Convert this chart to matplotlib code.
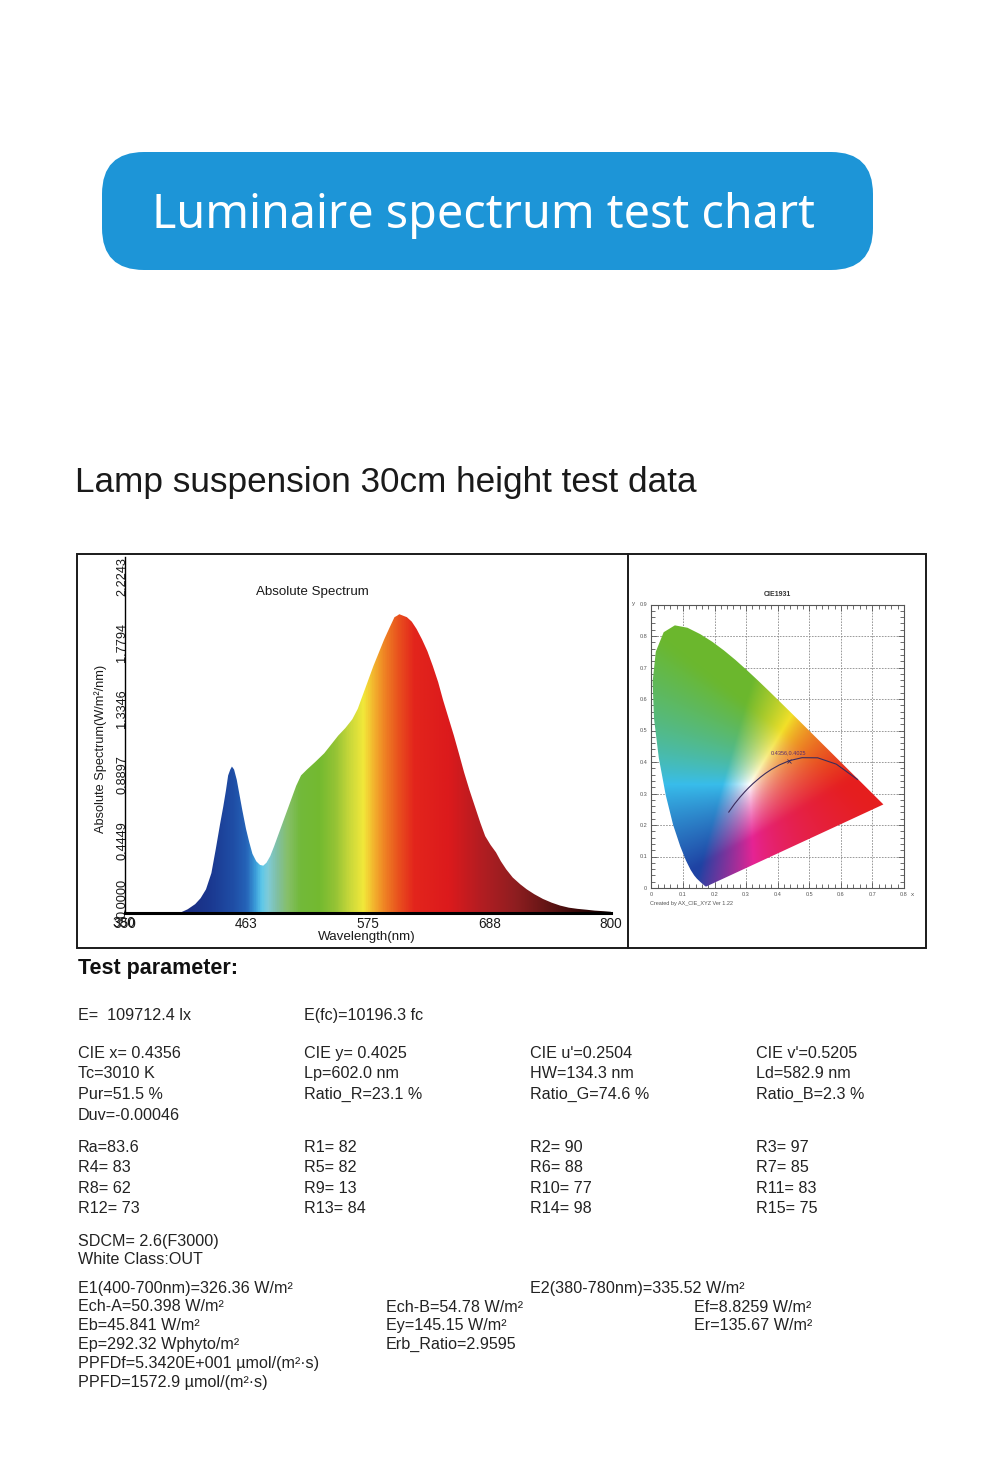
import numpy as np
import matplotlib
matplotlib.use("Agg")
import matplotlib.pyplot as plt
from matplotlib.patches import FancyBboxPatch, Rectangle, Polygon
from matplotlib.colors import LinearSegmentedColormap, Normalize
from matplotlib.transforms import ScaledTranslation

# ---------------- data ----------------
wavelength_nm = [380, 395, 402, 408, 415, 420, 425, 430, 434, 438, 441, 443.5, 445.5, 447.5, 449, 451,
                 453.5, 456, 458.5, 462, 465, 468, 471.5, 475, 478, 481, 484.5, 488, 492.5, 496.5,
                 500.5, 504.5, 508.5, 513, 518.5, 526, 534.5, 541, 547.5, 554, 560.5, 565.5, 570,
                 575, 580, 585, 590, 595, 599.5, 602, 604, 607.5, 611, 615.5, 620, 625, 630, 635,
                 640, 644.5, 649.5, 654.5, 659.5, 664, 669, 674, 679, 683.5, 688.5, 693.5, 698,
                 703, 709, 716, 722, 729, 737, 745, 753, 761, 769, 777.5, 785, 793.5, 800]
irradiance = [0.0, 0.0, 0.005, 0.025, 0.06, 0.10, 0.16, 0.27, 0.43, 0.60, 0.72, 0.83, 0.93, 0.97, 0.99, 0.97,
              0.90, 0.80, 0.70, 0.57, 0.48, 0.40, 0.35, 0.325, 0.32, 0.34, 0.385, 0.45, 0.54, 0.62,
              0.70, 0.78, 0.86, 0.93, 0.97, 1.02, 1.08, 1.14, 1.20, 1.25, 1.31, 1.38, 1.47,
              1.57, 1.67, 1.76, 1.85, 1.93, 2.00, 2.01, 2.02, 2.01, 2.00, 1.97, 1.92, 1.85, 1.77, 1.67,
              1.56, 1.44, 1.32, 1.20, 1.07, 0.95, 0.83, 0.72, 0.61, 0.52, 0.46, 0.41, 0.35,
              0.295, 0.24, 0.194, 0.16, 0.127, 0.095, 0.07, 0.05, 0.036, 0.028, 0.022, 0.016, 0.012, 0.008]

x_tick_values = [350, 462.5, 575, 687.5, 800]
x_tick_labels = ["350", "463", "575", "688", "800"]
y_tick_values = [0.0, 0.4449, 0.8897, 1.3346, 1.7794, 2.2243]
y_tick_labels = ["0.0000", "0.4449", "0.8897", "1.3346", "1.7794", "2.2243"]

# CIE 1931 spectral locus (x, y)
locus_x = [0.1741, 0.1733, 0.1714, 0.1689, 0.1644, 0.1566, 0.1440, 0.1355, 0.1241, 0.1096, 0.0913,
           0.0687, 0.0454, 0.0235, 0.0082, 0.0039, 0.0139, 0.0389, 0.0743, 0.1142, 0.1547, 0.1929,
           0.2296, 0.2658, 0.3016, 0.3373, 0.3731, 0.4087, 0.4441, 0.4788, 0.5125, 0.5448, 0.5752,
           0.6029, 0.6270, 0.6658, 0.6915, 0.7079, 0.7190, 0.7260, 0.7334, 0.7347]
locus_y = [0.0050, 0.0048, 0.0051, 0.0069, 0.0109, 0.0177, 0.0297, 0.0399, 0.0578, 0.0868, 0.1327,
           0.2007, 0.2950, 0.4127, 0.5384, 0.6548, 0.7502, 0.8120, 0.8338, 0.8262, 0.8059, 0.7816,
           0.7543, 0.7243, 0.6923, 0.6589, 0.6245, 0.5896, 0.5547, 0.5202, 0.4866, 0.4544, 0.4242,
           0.3965, 0.3725, 0.3340, 0.3083, 0.2920, 0.2809, 0.2740, 0.2666, 0.2653]
# Planckian locus (x, y)
planck_x = [0.6528, 0.5857, 0.5267, 0.4770, 0.4369, 0.4053, 0.3805, 0.3608, 0.3451, 0.3221, 0.3064,
            0.2952, 0.2807, 0.2637, 0.2565, 0.2450]
planck_y = [0.3444, 0.3931, 0.4133, 0.4137, 0.4041, 0.3907, 0.3768, 0.3636, 0.3516, 0.3318, 0.3166,
            0.3048, 0.2884, 0.2674, 0.2574, 0.2410]
cie_point_x = 0.4356
cie_point_y = 0.4025
cie_point_label = "0.4356,0.4025"
cie_x_ticks = [0, 0.1, 0.2, 0.3, 0.4, 0.5, 0.6, 0.7, 0.8]
cie_x_labels = ["0", "0.1", "0.2", "0.3", "0.4", "0.5", "0.6", "0.7", "0.8"]
cie_y_ticks = [0, 0.1, 0.2, 0.3, 0.4, 0.5, 0.6, 0.7, 0.8, 0.9]
cie_y_labels = ["0", "0.1", "0.2", "0.3", "0.4", "0.5", "0.6", "0.7", "0.8", "0.9"]

title_text = "Luminaire spectrum test chart"
subtitle_text = "Lamp suspension 30cm height test data"

col1_top = ["E=  109712.4 lx", "CIE x= 0.4356", "Tc=3010 K", "Pur=51.5 %", "Duv=-0.00046",
            "Ra=83.6", "R4= 83", "R8= 62", "R12= 73"]
col2_top = ["E(fc)=10196.3 fc", "CIE y= 0.4025", "Lp=602.0 nm", "Ratio_R=23.1 %", "",
            "R1= 82", "R5= 82", "R9= 13", "R13= 84"]
col3_top = ["", "CIE u'=0.2504", "HW=134.3 nm", "Ratio_G=74.6 %", "",
            "R2= 90", "R6= 88", "R10= 77", "R14= 98"]
col4_top = ["", "CIE v'=0.5205", "Ld=582.9 nm", "Ratio_B=2.3 %", "",
            "R3= 97", "R7= 85", "R11= 83", "R15= 75"]
col1_bottom = ["SDCM= 2.6(F3000)", "White Class:OUT", "E1(400-700nm)=326.36 W/m²", "Ech-A=50.398 W/m²",
               "Eb=45.841 W/m²", "Ep=292.32 Wphyto/m²", "PPFDf=5.3420E+001 µmol/(m²·s)",
               "PPFD=1572.9 µmol/(m²·s)"]
mid_bottom = ["Ech-B=54.78 W/m²", "Ey=145.15 W/m²", "Erb_Ratio=2.9595"]
e2_text = "E2(380-780nm)=335.52 W/m²"
right_bottom = ["Ef=8.8259 W/m²", "Er=135.67 W/m²"]

# ---------------- layout ----------------
W, H = 1000, 1471
plt.rcParams["font.family"] = ["Liberation Sans", "DejaVu Sans"]
fig = plt.figure(figsize=(W / 100, H / 100), dpi=100)
fig.patch.set_facecolor("white")

bg = fig.add_axes([0, 0, 1, 1])
bg.set_xlim(0, W)
bg.set_ylim(H, 0)
bg.axis("off")

def ax_px(l, t, r, b):
    return fig.add_axes([l / W, 1 - b / H, (r - l) / W, (b - t) / H])

# banner
bg.add_patch(FancyBboxPatch((102, 152), 771, 118, boxstyle="round,pad=0,rounding_size=42",
                            fc="#1d95d7", ec="none"))
bg.text(483, 228, title_text, color="white", fontsize=33.6, family=["Noto Sans", "DejaVu Sans"],
        ha="center", va="baseline")

bg.text(75, 491.5, subtitle_text, color="#1a1a1a", fontsize=25.3, ha="left", va="baseline")

# outer box
bg.add_patch(Rectangle((77, 554), 849, 394, fill=False, ec="#1a1a1a", lw=1.4))
bg.plot([628, 628], [554, 948], color="#1a1a1a", lw=1.4)

# ---------------- spectrum ----------------
ax = ax_px(125, 557, 611, 913)
ytop = 2.2243 * (913 - 557) / (913 - 584)
ax.set_xlim(350, 800)
ax.set_ylim(0, ytop)
for s in ["top", "right"]:
    ax.spines[s].set_visible(False)
ax.spines["left"].set_linewidth(1.0)
ax.spines["bottom"].set_linewidth(2.2)
ax.set_facecolor("none")

spec_nodes = [(350, "#14205a"), (405, "#1a2c80"), (430, "#1b3a92"), (450, "#1f4ea6"), (462, "#2563b8"),
              (470, "#3a9ad8"), (476, "#5cc8ea"), (482, "#7fcbd8"), (490, "#80c0a8"), (500, "#86bf6a"),
              (512, "#72b93a"), (530, "#74ba30"), (545, "#95c335"), (558, "#c8d83a"), (571, "#f2e83a"),
              (580, "#f3b52e"), (590, "#ef8424"), (603, "#e9521e"), (618, "#e3251c"), (650, "#dc1a1c"),
              (680, "#b31d22"), (712, "#8f1e20"), (745, "#5e1414"), (775, "#300606"), (800, "#150000")]
cmap = LinearSegmentedColormap.from_list("spec", [((w - 350) / 450, c) for w, c in spec_nodes])
grad = np.linspace(350, 800, 900)[None, :]
im = ax.imshow(grad, extent=(350, 800, 0, ytop), aspect="auto", cmap=cmap,
               norm=Normalize(350, 800), origin="lower", zorder=1, interpolation="bilinear")
verts = list(zip(wavelength_nm, irradiance)) + [(wavelength_nm[-1], 0), (wavelength_nm[0], 0)]
clip = Polygon(verts, closed=True, fc="none", ec="none", transform=ax.transData)
ax.add_patch(clip)
im.set_clip_path(clip)

ax.set_xticks(x_tick_values)
ax.set_xticklabels(x_tick_labels, fontsize=9.8)
ax.tick_params(axis="x", length=0, pad=3, colors="#1a1a1a")
ax.set_yticks(y_tick_values)
ax.set_yticklabels(y_tick_labels, fontsize=9.2, rotation=90, va="center", ha="center")
ax.tick_params(axis="y", length=0, pad=2, colors="#1a1a1a")
for i, lab in enumerate(ax.get_yticklabels()):
    dy = 15 if i == 0 else 7
    lab.set_transform(lab.get_transform() + ScaledTranslation(0, dy / 100, fig.dpi_scale_trans))
fig.text(124 / W, 1 - 923 / H, "380", fontsize=9.8, ha="center", va="center", color="#1a1a1a")

bg.text(312, 592, "Absolute Spectrum", fontsize=9.6, ha="center", va="center", color="#1a1a1a")
bg.text(367, 937, "Wavelength(nm)", fontsize=9.6, ha="center", va="center", color="#1a1a1a")
bg.text(101, 749, "Absolute Spectrum(W/m²/nm)", fontsize=9.2, ha="center", va="center",
        rotation=90, color="#1a1a1a")

# ---------------- CIE 1931 ----------------
cax = ax_px(651.4, 604.5, 904, 888)
cax.set_xlim(0, 0.8)
cax.set_ylim(0, 0.9)
nx, ny = 420, 470
xs = np.linspace(0.0005, 0.8, nx)
ys = np.linspace(0.0005, 0.9, ny)
X, Y = np.meshgrid(xs, ys)
Xc = X / Y
Zc = (1 - X - Y) / Y
M = np.array([[3.2406, -1.5372, -0.4986], [-0.9689, 1.8758, 0.0415], [0.0557, -0.2040, 1.0570]])
lin = np.einsum("ij,jkl->kli", M, np.stack([Xc, np.ones_like(Xc), Zc]))
lin = np.clip(lin, 0, None)
lin = lin / np.maximum(lin.max(axis=2, keepdims=True), 1e-9)
lin = lin ** 1.9
rgb = np.where(lin <= 0.0031308, 12.92 * lin, 1.055 * np.power(lin, 1 / 2.4) - 0.055)
rgb = np.clip(rgb, 0, 1)
# soften the palette toward the printed diagram's tones (corner colours of the RGB cube)
corners = {
    (0, 0, 0): (0, 0, 0), (1, 1, 1): (1, 1, 1),
    (1, 0, 0): (0.90, 0.12, 0.12), (0, 1, 0): (0.42, 0.72, 0.18), (0, 0, 1): (0.12, 0.26, 0.64),
    (0, 1, 1): (0.22, 0.74, 0.92), (1, 0, 1): (0.90, 0.14, 0.58), (1, 1, 0): (0.95, 0.88, 0.16),
}
r, g, b = rgb[..., 0:1], rgb[..., 1:2], rgb[..., 2:3]
out = np.zeros_like(rgb)
for (cr, cg, cb), col in corners.items():
    w = (r if cr else 1 - r) * (g if cg else 1 - g) * (b if cb else 1 - b)
    out += w * np.array(col)
cim = cax.imshow(np.clip(out, 0, 1), extent=(0, 0.8, 0, 0.9), origin="lower", aspect="auto", zorder=1,
                 interpolation="bilinear")
lpoly = Polygon(list(zip(locus_x, locus_y)), closed=True, fc="none", ec="none", transform=cax.transData)
cax.add_patch(lpoly)
cim.set_clip_path(lpoly)

cax.set_xticks(cie_x_ticks)
cax.set_xticklabels(cie_x_labels)
cax.set_yticks(cie_y_ticks)
cax.set_yticklabels(cie_y_labels)
cax.set_xticks(np.arange(0, 0.8001, 0.02), minor=True)
cax.set_yticks(np.arange(0, 0.9001, 0.02), minor=True)
cax.grid(True, which="major", color="#8a8a8a", linestyle=(0, (2, 1.5)), linewidth=0.6, zorder=0)
cax.set_axisbelow(True)
cax.tick_params(which="both", direction="in", top=True, right=True, colors="#555555",
                labelsize=4, pad=3)
cax.tick_params(which="major", length=4, width=0.6)
cax.tick_params(which="minor", length=3, width=0.6)
for s in cax.spines.values():
    s.set_linewidth(0.8)
    s.set_color("#555555")
cax.plot(planck_x, planck_y, color="#3a2c5c", lw=0.8, zorder=3)
cax.plot([cie_point_x], [cie_point_y], marker="x", ms=2.5, mew=0.6, color="#3a2c5c", zorder=4)
cax.text(cie_point_x, cie_point_y + 0.018, cie_point_label, fontsize=4, color="#5a2a70",
         ha="center", va="bottom", zorder=4)

bg.text(777, 594, "CIE1931", fontsize=5, fontweight="bold", ha="center", va="center", color="#333333")
bg.text(634, 603.5, "y", fontsize=4.5, ha="center", va="center", color="#555555")
bg.text(912, 894, "x", fontsize=4.5, ha="center", va="center", color="#555555")
bg.text(650, 903, "Created by AX_CIE_XYZ Ver 1.22", fontsize=4, ha="left", va="center", color="#555555")

# ---------------- parameters ----------------
bg.text(78, 973.5, "Test parameter:", fontsize=15.5, fontweight="bold", ha="left", va="baseline",
        color="#111111")
top_rows_y = [1014, 1052, 1072, 1093, 1114, 1146, 1166, 1187, 1207]
for col_x, col in zip([78, 304, 530, 756], [col1_top, col2_top, col3_top, col4_top]):
    for yy, t in zip(top_rows_y, col):
        if t:
            bg.text(col_x, yy + 5.8, t, fontsize=11.6, ha="left", va="baseline", color="#222222")
bottom_rows_y = [1240, 1258, 1287, 1305, 1324, 1343, 1362, 1381]
for yy, t in zip(bottom_rows_y, col1_bottom):
    bg.text(78, yy + 5.8, t, fontsize=11.6, ha="left", va="baseline", color="#222222")
for yy, t in zip([1306, 1324, 1343], mid_bottom):
    bg.text(386, yy + 5.8, t, fontsize=11.6, ha="left", va="baseline", color="#222222")
bg.text(530, 1287 + 5.8, e2_text, fontsize=11.6, ha="left", va="baseline", color="#222222")
for yy, t in zip([1306, 1324], right_bottom):
    bg.text(694, yy + 5.8, t, fontsize=11.6, ha="left", va="baseline", color="#222222")

fig.savefig("out.png", dpi=100, facecolor="white")
